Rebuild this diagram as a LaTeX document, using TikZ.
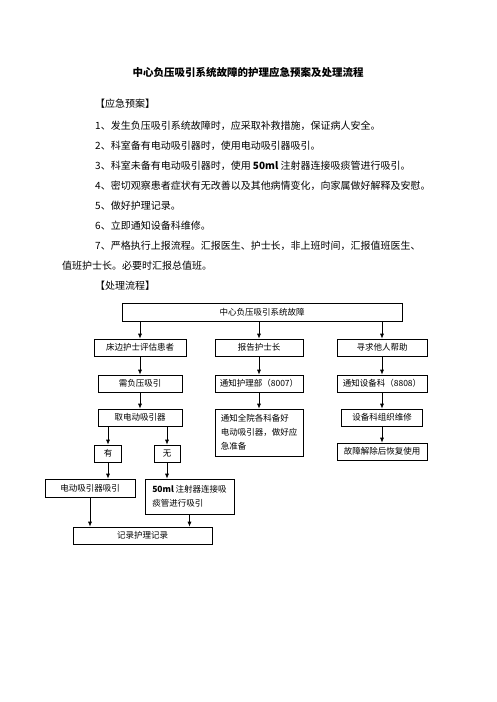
\documentclass[tikz,border=0pt]{standalone}
\usepackage{fontspec}
\setmainfont{Noto Sans CJK SC}
\usetikzlibrary{arrows.meta,calc}
\begin{document}
\begin{tikzpicture}[x=1pt,y=-1pt,
 txt/.style={anchor=west,inner sep=0pt,font=\fontsize{10}{12}\selectfont},
 fbox/.style={draw,line width=0.7pt,inner sep=0pt,font=\fontsize{8.5}{14}\selectfont,align=center},
 arr/.style={-{Latex[length=5pt,width=4pt]},line width=0.7pt}]
\useasboundingbox[fill=white] (0,0) rectangle (496,702);
% title
\node[inner sep=0pt,font=\fontsize{10.5}{12}\selectfont\bfseries] (title) at (248,72) {中心负压吸引系统故障的护理应急预案及处理流程};
% body text
\node[txt] (h1) at (95,104) {【应急预案】};
\node[txt] (l1) at (95,126) {1、发生负压吸引系统故障时，应采取补救措施，保证病人安全。};
\node[txt] (l2) at (95,146) {2、科室备有电动吸引器时，使用电动吸引器吸引。};
\node[txt] (l3) at (95,166) {3、科室未备有电动吸引器时，使用 \textbf{50ml} 注射器连接吸痰管进行吸引。};
\node[txt] (l4) at (95,186) {4、密切观察患者症状有无改善以及其他病情变化，向家属做好解释及安慰。};
\node[txt] (l5) at (95,206) {5、做好护理记录。};
\node[txt] (l6) at (95,226) {6、立即通知设备科维修。};
\node[txt] (l7) at (95,246) {7、严格执行上报流程。汇报医生、护士长，非上班时间，汇报值班医生、};
\node[txt] (l8) at (62,266) {值班护士长。必要时汇报总值班。};
\node[txt] (h2) at (95,286) {【处理流程】};
% flowchart
\node[fbox,minimum width=280,minimum height=18] (top) at (262,312) {中心负压吸引系统故障};
\node[fbox,minimum width=92,minimum height=17] (b1) at (140,347.5) {床边护士评估患者};
\node[fbox,minimum width=88,minimum height=17] (b2) at (259,347.5) {报告护士长};
\node[fbox,minimum width=90,minimum height=17] (b3) at (382,347.5) {寻求他人帮助};
\node[fbox,minimum width=84,minimum height=17] (c1) at (140,383.5) {需负压吸引};
\node[fbox,minimum width=88,minimum height=17] (c2) at (259,383.5) {通知护理部（8007）};
\node[fbox,minimum width=90,minimum height=17] (c3) at (382,383.5) {通知设备科（8808）};
\node[fbox,minimum width=84,minimum height=17] (d1) at (140,417.5) {取电动吸引器};
\node[fbox,minimum width=88,minimum height=47,align=left] (d2) at (259,432.5) {通知全院各科备好\\电动吸引器，做好应\\急准备};
\node[fbox,minimum width=81,minimum height=17] (d3) at (382,417.5) {设备科组织维修};
\node[fbox,minimum width=90,minimum height=17] (g3) at (382,451.5) {故障解除后恢复使用};
\node[fbox,minimum width=27,minimum height=17] (y1) at (108,453.5) {有};
\node[fbox,minimum width=26,minimum height=17] (n1) at (167,453.5) {无};
\node[fbox,minimum width=90,minimum height=18] (e1) at (90,488) {电动吸引器吸引};
\node[fbox,minimum width=89,minimum height=35,align=left] (f1) at (189.5,496.5) {\textbf{50ml} 注射器连接吸\\痰管进行吸引};
\node[fbox,minimum width=139,minimum height=17] (r1) at (142.5,535.5) {记录护理记录};
% connectors
\draw[arr] (top.south -| b1.north) -- (b1.north);
\draw[arr] (top.south -| b2.north) -- (b2.north);
\draw[arr] (top.south -| b3.north) -- (b3.north);
\draw[arr] (b1) -- (c1);
\draw[arr] (c1) -- (d1);
\draw[arr] (b2) -- (c2);
\draw[arr] (c2) -- (d2);
\draw[arr] (b3) -- (c3);
\draw[arr] (c3) -- (d3);
\draw[arr] (d3) -- (g3);
\draw[arr] (d1.south -| y1.north) -- (y1.north);
\draw[arr] (d1.south -| n1.north) -- (n1.north);
\draw[arr] (y1.south) -- (y1.south |- e1.north);
\draw[arr] (n1.south) -- (n1.south |- f1.north);
\draw[arr] (e1.south) -- (e1.south |- r1.north);
\draw[arr] (f1.south) -- (f1.south |- r1.north);
\end{tikzpicture}
\end{document}
